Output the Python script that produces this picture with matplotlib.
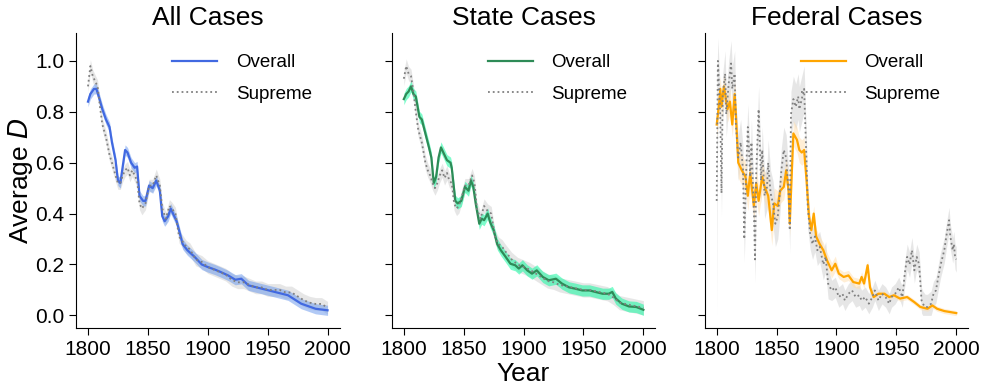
import numpy as np
import matplotlib.pyplot as plt

plt.rcParams['font.family'] = ['Liberation Sans', 'DejaVu Sans']

# ---- All cases ----
all_yr = [1800, 1802, 1805, 1807, 1809, 1812, 1815, 1818, 1820, 1823, 1825, 1827, 1831, 1833,
          1836, 1839, 1841, 1843, 1846, 1848, 1851, 1854, 1857, 1860, 1862, 1864, 1867, 1869,
          1874, 1876, 1879, 1883, 1889, 1895, 1900, 1906, 1911, 1917, 1923, 1928, 1934, 1945,
          1956, 1967, 1978, 1990, 2000]
all_overall = [0.84, 0.87, 0.89, 0.89, 0.86, 0.81, 0.77, 0.74, 0.68, 0.61, 0.53, 0.52, 0.65, 0.64,
               0.60, 0.58, 0.585, 0.47, 0.45, 0.45, 0.51, 0.50, 0.53, 0.49, 0.39, 0.37, 0.39, 0.42,
               0.37, 0.335, 0.28, 0.256, 0.23, 0.20, 0.19, 0.18, 0.17, 0.157, 0.14, 0.144, 0.118, 0.105,
               0.092, 0.079, 0.046, 0.026, 0.02]
all_sup_yr = [1800, 1802, 1804, 1806, 1808, 1810, 1812, 1815, 1818, 1820, 1823, 1825, 1827, 1829,
              1831, 1833, 1835, 1837, 1839, 1841, 1843, 1845, 1848, 1851, 1854, 1857, 1860, 1862,
              1865, 1868, 1870, 1873, 1876, 1879, 1882, 1885, 1890, 1895, 1900, 1905, 1910, 1915,
              1920, 1925, 1930, 1935, 1940, 1945, 1950, 1955, 1960, 1965, 1970, 1975, 1980, 1985,
              1990, 1995, 2000]
all_supreme = [0.90, 0.98, 0.94, 0.92, 0.90, 0.82, 0.75, 0.70, 0.63, 0.60, 0.55, 0.52, 0.52, 0.55,
               0.57, 0.58, 0.55, 0.57, 0.55, 0.53, 0.44, 0.42, 0.44, 0.51, 0.51, 0.55, 0.51, 0.42,
               0.38, 0.43, 0.42, 0.40, 0.31, 0.29, 0.27, 0.26, 0.22, 0.21, 0.19, 0.18, 0.17, 0.16,
               0.14, 0.13, 0.13, 0.12, 0.11, 0.11, 0.10, 0.10, 0.10, 0.09, 0.09, 0.075, 0.06, 0.05,
               0.045, 0.045, 0.03]

# ---- State cases ----
st_yr = [1800, 1802, 1804, 1806, 1808, 1810, 1813, 1815, 1818, 1821, 1823, 1825, 1827, 1829,
         1831, 1833, 1836, 1839, 1840, 1843, 1845, 1848, 1851, 1854, 1856, 1858, 1860, 1863,
         1865, 1867, 1870, 1872, 1875, 1878, 1881, 1885, 1889, 1893, 1896, 1899, 1903, 1907,
         1911, 1916, 1921, 1927, 1932, 1938, 1943, 1949, 1955, 1960, 1966, 1971, 1974, 1977,
         1982, 1988, 1994, 2000]
st_overall = [0.85, 0.87, 0.88, 0.90, 0.87, 0.86, 0.78, 0.77, 0.715, 0.66, 0.62, 0.52, 0.545, 0.62,
              0.66, 0.64, 0.61, 0.60, 0.58, 0.45, 0.44, 0.45, 0.505, 0.49, 0.53, 0.505, 0.44, 0.36,
              0.38, 0.374, 0.40, 0.367, 0.335, 0.28, 0.256, 0.23, 0.203, 0.197, 0.184, 0.197, 0.177, 0.164,
              0.177, 0.151, 0.138, 0.144, 0.125, 0.11, 0.105, 0.098, 0.098, 0.092, 0.085, 0.085, 0.092, 0.066,
              0.046, 0.035, 0.033, 0.022]
st_sup_yr = [1800, 1802, 1804, 1806, 1808, 1810, 1812, 1815, 1818, 1820, 1822, 1824, 1826, 1828,
             1830, 1832, 1834, 1836, 1838, 1840, 1842, 1844, 1846, 1848, 1851, 1854, 1857, 1859,
             1861, 1864, 1867, 1870, 1873, 1876, 1879, 1882, 1885, 1890, 1895, 1900, 1905, 1910,
             1915, 1920, 1925, 1930, 1935, 1940, 1945, 1950, 1955, 1960, 1965, 1970, 1975, 1980,
             1985, 1990, 1995, 2000]
st_supreme = [0.93, 0.98, 0.95, 0.94, 0.88, 0.80, 0.73, 0.68, 0.60, 0.57, 0.55, 0.52, 0.50, 0.52,
              0.55, 0.57, 0.54, 0.56, 0.53, 0.52, 0.44, 0.42, 0.43, 0.46, 0.51, 0.51, 0.55, 0.52,
              0.42, 0.38, 0.43, 0.41, 0.40, 0.31, 0.28, 0.27, 0.25, 0.22, 0.20, 0.19, 0.18, 0.165,
              0.15, 0.135, 0.13, 0.12, 0.115, 0.11, 0.105, 0.10, 0.10, 0.095, 0.09, 0.085, 0.07, 0.05,
              0.045, 0.04, 0.035, 0.03]

# ---- Federal cases ----
fed_yr = [1800, 1802, 1803, 1804, 1806, 1808, 1809, 1811, 1813, 1815, 1816, 1818, 1821, 1824,
          1826, 1828, 1831, 1833, 1835, 1838, 1840, 1843, 1846, 1848, 1851, 1853, 1856, 1858,
          1860, 1861, 1864, 1867, 1869, 1871, 1873, 1875, 1877, 1879, 1881, 1883, 1886, 1889,
          1892, 1896, 1899, 1902, 1906, 1910, 1914, 1919, 1921, 1923, 1926, 1928, 1931, 1935,
          1940, 1944, 1948, 1953, 1959, 1965, 1970, 1976, 1980, 1984, 1990, 2000]
fed_overall = [0.75, 0.83, 0.89, 0.82, 0.90, 0.84, 0.81, 0.84, 0.75, 0.87, 0.79, 0.60, 0.57, 0.545,
               0.47, 0.56, 0.43, 0.52, 0.45, 0.545, 0.505, 0.47, 0.335, 0.44, 0.43, 0.49, 0.505, 0.57,
               0.49, 0.36, 0.715, 0.69, 0.65, 0.64, 0.65, 0.53, 0.39, 0.335, 0.40, 0.31, 0.28, 0.256,
               0.217, 0.177, 0.203, 0.164, 0.151, 0.157, 0.131, 0.125, 0.151, 0.125, 0.197, 0.11, 0.072, 0.085,
               0.085, 0.072, 0.079, 0.066, 0.072, 0.052, 0.033, 0.026, 0.039, 0.026, 0.017, 0.009]
fed_sup_yr = [1800, 1801, 1803, 1804, 1805, 1807, 1808, 1810, 1812, 1813, 1815, 1816, 1818, 1820,
              1822, 1823, 1825, 1826, 1828, 1829, 1831, 1832, 1833, 1835, 1837, 1838, 1840, 1842,
              1843, 1845, 1847, 1849, 1851, 1852, 1854, 1856, 1858, 1860, 1861, 1862, 1864, 1866,
              1868, 1869, 1871, 1873, 1875, 1876, 1878, 1880, 1882, 1884, 1886, 1889, 1891, 1893,
              1896, 1899, 1902, 1905, 1907, 1910, 1913, 1916, 1919, 1921, 1924, 1927, 1930, 1932,
              1935, 1938, 1941, 1944, 1946, 1949, 1952, 1955, 1957, 1959, 1961, 1963, 1965, 1967,
              1969, 1971, 1972, 1974, 1976, 1979, 1981, 1983, 1985, 1987, 1990, 1992, 1994, 1995,
              1997, 1998, 1999, 2000]
fed_supreme = [0.45, 1.00, 0.79, 0.48, 0.86, 0.95, 0.79, 0.91, 0.99, 0.89, 0.95, 0.75, 0.62, 0.68,
               0.57, 0.30, 0.62, 0.74, 0.545, 0.68, 0.41, 0.22, 0.56, 0.81, 0.53, 0.65, 0.47, 0.505,
               0.60, 0.48, 0.44, 0.36, 0.39, 0.44, 0.57, 0.65, 0.62, 0.49, 0.335, 0.79, 0.85, 0.82,
               0.86, 0.81, 0.85, 0.89, 0.60, 0.43, 0.32, 0.28, 0.31, 0.256, 0.27, 0.20, 0.23, 0.125,
               0.098, 0.11, 0.072, 0.085, 0.059, 0.085, 0.098, 0.072, 0.079, 0.059, 0.072, 0.046, 0.072, 0.098,
               0.059, 0.085, 0.072, 0.046, 0.072, 0.085, 0.11, 0.072, 0.164, 0.23, 0.20, 0.256, 0.177, 0.23,
               0.20, 0.059, 0.046, 0.033, 0.033, 0.046, 0.085, 0.098, 0.151, 0.20, 0.256, 0.32, 0.374, 0.31,
               0.256, 0.28, 0.23, 0.22]

# confidence band half-widths (overall, supreme)
ci_all = [0.02, 0.025]
ci_state = [0.022, 0.028]
ci_fed_overall = [0.05] * 11 + [0.06] * 14 + [0.05] * 11 + [0.03] * 9 + [0.02] * 9 + [0.01] * 14
ci_fed_supreme = [0.45] + [0.09] * 47 + [0.06] * 8 + [0.04] * 22 + [0.05] * 24
ci_fed = [ci_fed_overall, ci_fed_supreme]

panels = [
    ("All Cases", all_yr, all_overall, all_sup_yr, all_supreme, ci_all, "royalblue", "cornflowerblue"),
    ("State Cases", st_yr, st_overall, st_sup_yr, st_supreme, ci_state, "seagreen", "mediumspringgreen"),
    ("Federal Cases", fed_yr, fed_overall, fed_sup_yr, fed_supreme, ci_fed, "orange", "navajowhite"),
]

fig = plt.figure(figsize=(9.87, 3.92), dpi=100)
lefts = [0.077, 0.397, 0.714]
axes = []
for i, (title, yr, ov, syr, sup, ci, col, fcol) in enumerate(panels):
    ax = fig.add_axes([lefts[i], 0.163, 0.267, 0.753], sharey=axes[0] if axes else None)
    axes.append(ax)
    yr = np.array(yr); ov = np.array(ov)
    syr = np.array(syr); sup = np.array(sup)
    lo_s = np.clip(sup - np.array(ci[1]), 0, None)
    ax.fill_between(syr, lo_s, sup + np.array(ci[1]), color="lightgray", alpha=0.55, lw=0)
    ax.fill_between(yr, ov - np.array(ci[0]), ov + np.array(ci[0]), color=fcol, alpha=0.5, lw=0)
    ax.plot(yr, ov, color=col, lw=1.6, label="Overall")
    ax.plot(syr, sup, color="gray", lw=1.3, ls=":", label="Supreme")
    ax.set_title(title, fontsize=19)
    ax.set_xlim(1790, 2010)
    ax.set_xticks([1800, 1850, 1900, 1950, 2000])
    ax.tick_params(labelsize=15, length=5)
    ax.spines["top"].set_visible(False)
    ax.spines["right"].set_visible(False)
    ax.legend(loc="upper left", frameon=False, fontsize=13.5, handlelength=2.4,
              handletextpad=1.0, labelspacing=0.75, bbox_to_anchor=(0.30, 0.985))
    if i > 0:
        ax.tick_params(labelleft=False)

axes[0].set_ylim(-0.05, 1.11)
axes[0].set_yticks([0.0, 0.2, 0.4, 0.6, 0.8, 1.0])
axes[0].set_ylabel("Average $D$", fontsize=19, labelpad=0)
axes[1].set_xlabel("Year", fontsize=19, labelpad=2)

fig.savefig("out.png", dpi=100)
